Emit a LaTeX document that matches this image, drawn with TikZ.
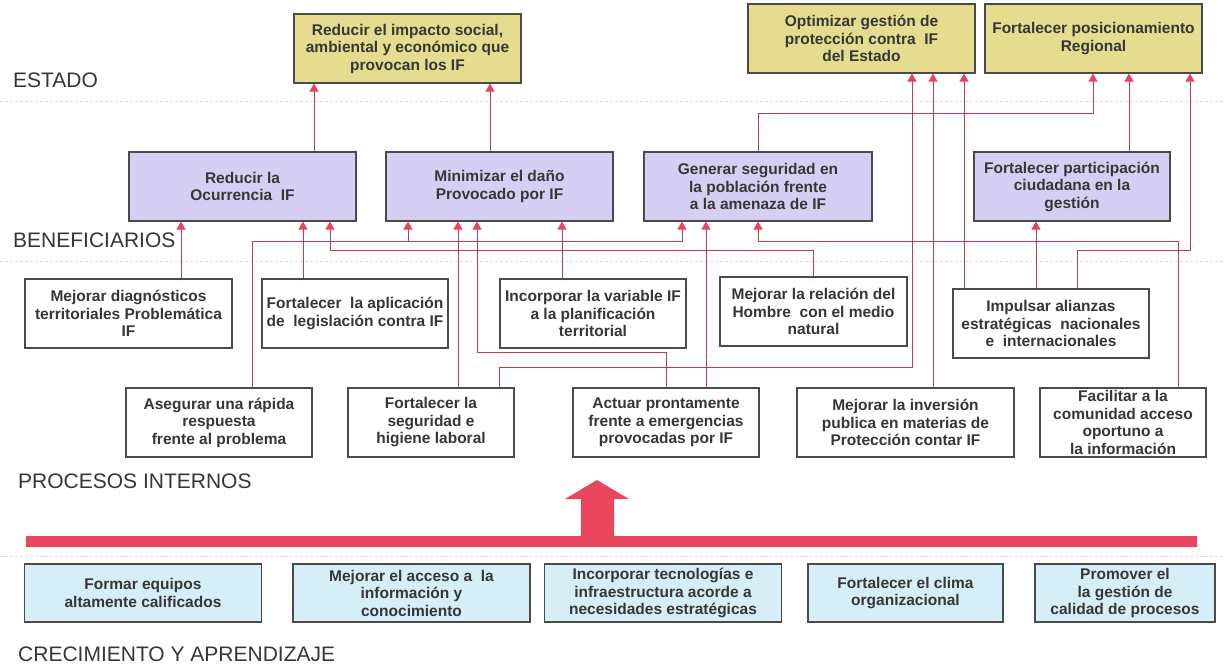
\documentclass[tikz,border=0pt]{standalone}
\usepackage{fontspec}
\setmainfont{Liberation Sans}
\usetikzlibrary{arrows.meta}
\definecolor{ybg}{HTML}{E5DC90}
\definecolor{pbg}{HTML}{D6CFF4}
\definecolor{cbg}{HTML}{D5EEF8}
\definecolor{bordr}{HTML}{4A4A4A}
\definecolor{txt}{HTML}{363636}
\definecolor{lnred}{HTML}{BF3A52}
\definecolor{hdred}{HTML}{E8435C}
\definecolor{bigred}{HTML}{E8475E}
\definecolor{sepc}{HTML}{DDDDDD}
\begin{document}
\begin{tikzpicture}[x=1pt,y=-1pt,
 box/.style={draw=bordr, line width=1.1pt, align=center, inner sep=0pt, text=txt, font=\bfseries\fontsize{15.5}{17.5}\selectfont, minimum height=69pt},
 ybox/.style={box, fill=ybg},
 pbox/.style={box, fill=pbg},
 wbox/.style={box, fill=white},
 cbox/.style={box, fill=cbg, minimum height=58pt},
 lab/.style={anchor=west, inner sep=0pt, text=txt, font=\fontsize{21}{24}\selectfont},
 conn/.style={draw=lnred, line width=1pt, -{Triangle[width=9pt,length=8pt,color=hdred]}},
 seprule/.style={draw=sepc, line width=0.8pt, dash pattern=on 3pt off 2pt}]
\useasboundingbox (0,0) rectangle (1224,667);
\fill[white] (0,0) rectangle (1224,667);
% separators
\draw[seprule] (0,101) -- (1224,101);
\draw[seprule] (0,261) -- (1224,261);
\draw[seprule] (0,556) -- (1224,556);
% labels
\node[lab] (lE) at (13,80) {ESTADO};
\node[lab] (lB) at (13,240) {BENEFICIARIOS};
\node[lab] (lP) at (18,481) {PROCESOS INTERNOS};
\node[lab] (lC) at (18,654.5) {CRECIMIENTO Y APRENDIZAJE};
% estado
\node[ybox, minimum width=227pt] (Y1) at (407.5,48.5) {Reducir el impacto social,\\ambiental y económico que\\provocan los IF};
\node[ybox, minimum width=227pt] (Y2) at (861.5,38.5) {Optimizar gestión de\\protección contra\ \ IF\\del Estado};
\node[ybox, minimum width=217pt] (Y3) at (1093.5,38.5) {Fortalecer posicionamiento\\Regional};
% beneficiarios
\node[pbox, minimum width=227pt] (P1) at (242.5,186.5) {Reducir la\\Ocurrencia\ \ IF};
\node[pbox, minimum width=227pt] (P2) at (499.5,186.5) {Minimizar el daño\\Provocado por IF};
\node[pbox, minimum width=228pt] (P3) at (758,186.5) {Generar seguridad en\\la población frente\\a la amenaza de IF};
\node[pbox, minimum width=196pt] (P4) at (1072,186.5) {Fortalecer participación\\ciudadana en la\\gestión};
% procesos internos, fila 1
\node[wbox, minimum width=207pt] (W1) at (128.5,313.5) {Mejorar diagnósticos\\territoriales Problemática\\IF};
\node[wbox, minimum width=186pt] (W2) at (355,313.5) {Fortalecer\ \ la aplicación\\de\ \ legislación contra IF};
\node[wbox, minimum width=186pt] (W3) at (593,313.5) {Incorporar la variable IF\\a la planificación\\territorial};
\node[wbox, minimum width=187pt] (W4) at (813.5,311.5) {Mejorar la relación del\\Hombre\ \ con el medio\\natural};
\node[wbox, minimum width=196pt] (W5) at (1051,323.5) {Impulsar alianzas\\estratégicas\ \ nacionales\\e\ \ internacionales};
% procesos internos, fila 2
\node[wbox, minimum width=186pt] (B1) at (219,422.5) {Asegurar una rápida\\respuesta\\frente al problema};
\node[wbox, minimum width=166pt] (B2) at (431,422.5) {Fortalecer la\\seguridad e\\higiene laboral};
\node[wbox, minimum width=186pt] (B3) at (666,422.5) {Actuar prontamente\\frente a emergencias\\provocadas por IF};
\node[wbox, minimum width=217pt] (B4) at (905.5,422.5) {Mejorar la inversión\\publica en materias de\\Protección contar IF};
\node[wbox, minimum width=166pt] (B5) at (1123,422.5) {Facilitar a la\\comunidad acceso\\oportuno a\\la información};
% crecimiento
\node[cbox, minimum width=237pt] (C1) at (143,593) {Formar equipos\\altamente calificados};
\node[cbox, minimum width=237pt] (C2) at (411.5,593) {Mejorar el acceso a\ \ la\\información y\\conocimiento};
\node[cbox, minimum width=237pt] (C3) at (663,593) {Incorporar tecnologías e\\infraestructura acorde a\\necesidades estratégicas};
\node[cbox, minimum width=195pt] (C4) at (905.5,593) {Fortalecer el clima\\organizacional};
\node[cbox, minimum width=180pt] (C5) at (1125,593) {Promover el\\la gestión de\\calidad de procesos};
% big arrow
\fill[bigred] (26,536) -- (581,536) -- (581,499) -- (565,499) -- (597,480) -- (629,499) -- (614,499) -- (614,536) -- (1197,536) -- (1197,547) -- (26,547) -- cycle;
% connectors to Beneficiarios
\draw[conn] (W1.north -| 181,0) -- (P1.south -| 181,0);
\draw[conn] (W2.north -| 303,0) -- (P1.south -| 303,0);
\draw[conn] (W4.north) |- (330,250) -- (P1.south -| 330,0);
\coordinate (b1j) at (408,241);
\draw[conn] (B1.north -| 252,0) |- (682,241) -- (P3.south -| 682,0);
\draw[conn] (b1j) -- (P2.south -| b1j);
\draw[conn] (B2.north -| 458,0) -- (P2.south -| 458,0);
\draw[conn] (B3.north) |- (477,352) -- (P2.south -| 477,0);
\draw[conn] (W3.north -| 562,0) -- (P2.south -| 562,0);
\draw[conn] (B3.north -| 706,0) -- (P3.south -| 706,0);
\draw[conn] (B5.north -| 1178,0) |- (758,241) -- (P3.south -| 758,0);
\draw[conn] (W5.north -| 1036,0) -- (P4.south -| 1036,0);
% connectors to Estado
\draw[conn] (P1.north -| 314,0) -- (Y1.south -| 314,0);
\draw[conn] (P2.north -| 490,0) -- (Y1.south -| 490,0);
\draw[conn] (B2.north -| 499,0) |- (912,367) -- (Y2.south -| 912,0);
\draw[conn] (B4.north -| 933,0) -- (Y2.south -| 933,0);
\draw[conn] (W5.north -| 964,0) -- (Y2.south -| 964,0);
\draw[conn] (P3.north) |- (1093,113) -- (Y3.south -| 1093,0);
\draw[conn] (P4.north -| 1129,0) -- (Y3.south -| 1129,0);
\draw[conn] (W5.north -| 1077,0) |- (1190,250) -- (Y3.south -| 1190,0);
\end{tikzpicture}
\end{document}
